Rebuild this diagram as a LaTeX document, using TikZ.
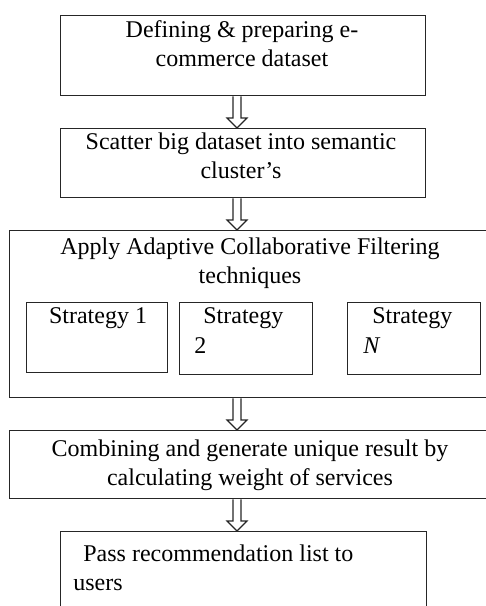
\documentclass[tikz,border=0pt]{standalone}
\usepackage{fontspec}
\setmainfont{Liberation Serif}
\usetikzlibrary{calc, positioning}

\newcommand{\hollowdown}[2]{%
  \draw[hollow] ($(#1.south -| ax)+(-4,0)$) -- ($(#2.north -| ax)+(-4,-10)$)
    -- ($(#2.north -| ax)+(-10,-10)$) -- (#2.north -| ax)
    -- ($(#2.north -| ax)+(10,-10)$) -- ($(#2.north -| ax)+(4,-10)$)
    -- ($(#1.south -| ax)+(4,0)$);}

\begin{document}
\begin{tikzpicture}[
    x=0.5pt, y=-0.5pt,
    every node/.style={font=\fontsize{12}{14.3}\selectfont},
    stage/.style={draw=black!85, line width=0.65pt, inner sep=0pt, anchor=north west},
    txt/.style={inner sep=0pt, align=center, anchor=base},
    hollow/.style={draw=black!85, line width=0.6pt, line join=miter}
]
\clip (0,0) rectangle (486,606);
\coordinate (ax) at (237,0);

% main steps
\node[stage, minimum width=182.5pt, minimum height=40pt] (def) at (60,15) {};
\node[stage, minimum width=182.5pt, minimum height=34.5pt] (scat) at (60,128) {};
\node[stage, minimum width=241pt, minimum height=83.5pt] (acf) at (9,230) {};
\node[stage, minimum width=241pt, minimum height=34pt] (comb) at (9,430) {};
\node[stage, minimum width=183pt, minimum height=50pt] (pass) at (60,531) {};

% strategies
\node[stage, minimum width=70.5pt, minimum height=35pt] (s1) at (26,302) {};
\node[stage, minimum width=66.5pt, minimum height=36pt] (s2) at (179,302) {};
\node[stage, minimum width=66.5pt, minimum height=36pt] (sn) at (347,302) {};

% texts (base = last line)
\node[txt] (tdef) at (242,66) {Defining \& preparing e-\\commerce dataset};
\node[txt] (tscat) at (241,178) {Scatter big dataset into semantic\\cluster’s};
\node[txt] (tacf) at (250,283) {Apply Adaptive Collaborative Filtering\\techniques};
\node[txt] (ts1) at (98,323) {Strategy 1};
\node[txt, align=left, anchor=base west] (ts2) at (194,353) {\hspace{4.5pt}Strategy\\[0.7pt]2};
\node[txt, align=left, anchor=base west] (tsn) at (363,353) {\hspace{4.5pt}Strategy\\[0.7pt]\textit{N}};
\node[txt] (tcomb) at (250,485) {Combining and generate unique result by\\calculating weight of services};
\node[txt, align=left, anchor=base west] (tpass) at (73,590) {\hspace{5pt}Pass recommendation list to\\users};

% arrows
\hollowdown{def}{scat}
\hollowdown{scat}{acf}
\hollowdown{acf}{comb}
\hollowdown{comb}{pass}
\end{tikzpicture}
\end{document}
